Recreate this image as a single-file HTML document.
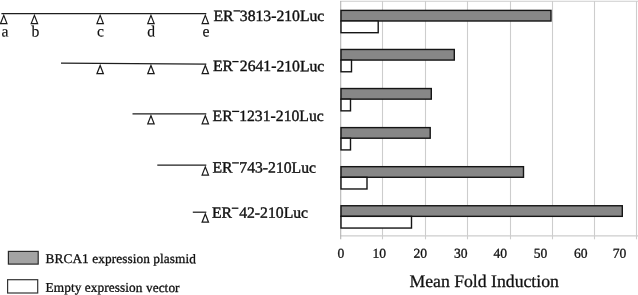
<!DOCTYPE html><html><head><meta charset="utf-8"><style>html,body{margin:0;padding:0;background:#fff;overflow:hidden;}svg{display:block;will-change:transform;}text{font-family:"Liberation Serif",serif;fill:#111;stroke:#111;stroke-width:0.4px;}.lg{stroke-width:0.3px;}.lt{stroke-width:0.15px;}.tk{stroke-width:0.3px;}.tt{stroke-width:0.3px;}</style></head><body>
<svg width="638" height="295" viewBox="0 0 638 295">
<rect x="0" y="0" width="638" height="295" fill="#fff"/>
<line x1="382.50" y1="1" x2="382.50" y2="239.3" stroke="#cdcdcd" stroke-width="1.1"/>
<line x1="425.50" y1="1" x2="425.50" y2="239.3" stroke="#cdcdcd" stroke-width="1.1"/>
<line x1="467.50" y1="1" x2="467.50" y2="239.3" stroke="#cdcdcd" stroke-width="1.1"/>
<line x1="510.50" y1="1" x2="510.50" y2="239.3" stroke="#cdcdcd" stroke-width="1.1"/>
<line x1="552.50" y1="1" x2="552.50" y2="239.3" stroke="#cdcdcd" stroke-width="1.1"/>
<line x1="594.50" y1="1" x2="594.50" y2="239.3" stroke="#cdcdcd" stroke-width="1.1"/>
<line x1="636.50" y1="1" x2="636.50" y2="239.3" stroke="#cdcdcd" stroke-width="1.1"/>
<line x1="340" y1="1.3" x2="638" y2="1.3" stroke="#cdcdcd" stroke-width="1.1"/>
<line x1="340" y1="235.9" x2="638" y2="235.9" stroke="#cdcdcd" stroke-width="1.3"/>
<line x1="340.7" y1="1" x2="340.7" y2="239.3" stroke="#b4b4b4" stroke-width="1.1"/>
<rect x="341.0" y="10.40" width="210.00" height="10.60" fill="#878787" stroke="#151515" stroke-width="1.4"/>
<rect x="341.0" y="21.00" width="37.20" height="11.70" fill="#fff" stroke="#151515" stroke-width="1.4"/>
<rect x="341.0" y="49.47" width="113.30" height="10.60" fill="#878787" stroke="#151515" stroke-width="1.4"/>
<rect x="341.0" y="60.07" width="10.50" height="11.70" fill="#fff" stroke="#151515" stroke-width="1.4"/>
<rect x="341.0" y="88.54" width="90.30" height="10.60" fill="#878787" stroke="#151515" stroke-width="1.4"/>
<rect x="341.0" y="99.14" width="9.50" height="11.70" fill="#fff" stroke="#151515" stroke-width="1.4"/>
<rect x="341.0" y="127.61" width="89.20" height="10.60" fill="#878787" stroke="#151515" stroke-width="1.4"/>
<rect x="341.0" y="138.21" width="9.50" height="11.70" fill="#fff" stroke="#151515" stroke-width="1.4"/>
<rect x="341.0" y="166.68" width="182.50" height="10.60" fill="#878787" stroke="#151515" stroke-width="1.4"/>
<rect x="341.0" y="177.28" width="26.00" height="11.70" fill="#fff" stroke="#151515" stroke-width="1.4"/>
<rect x="341.0" y="205.75" width="281.30" height="10.60" fill="#878787" stroke="#151515" stroke-width="1.4"/>
<rect x="341.0" y="216.35" width="70.50" height="11.70" fill="#fff" stroke="#151515" stroke-width="1.4"/>
<text x="340.8" y="257.7" font-size="13.6" text-anchor="middle" class="tk" transform="rotate(0.05 340.8 257.7)">0</text>
<text x="379.3" y="257.7" font-size="13.6" text-anchor="middle" class="tk" transform="rotate(0.05 379.3 257.7)">10</text>
<text x="420.2" y="257.7" font-size="13.6" text-anchor="middle" class="tk" transform="rotate(0.05 420.2 257.7)">20</text>
<text x="460.7" y="257.7" font-size="13.6" text-anchor="middle" class="tk" transform="rotate(0.05 460.7 257.7)">30</text>
<text x="500.2" y="257.7" font-size="13.6" text-anchor="middle" class="tk" transform="rotate(0.05 500.2 257.7)">40</text>
<text x="540.5" y="257.7" font-size="13.6" text-anchor="middle" class="tk" transform="rotate(0.05 540.5 257.7)">50</text>
<text x="580.7" y="257.7" font-size="13.6" text-anchor="middle" class="tk" transform="rotate(0.05 580.7 257.7)">60</text>
<text x="619.5" y="257.7" font-size="13.6" text-anchor="middle" class="tk" transform="rotate(0.05 619.5 257.7)">70</text>
<text x="409.5" y="287" font-size="17.7" class="tt" transform="rotate(0.05 409.5 287)">Mean Fold Induction</text>
<line x1="1.4" y1="13.55" x2="206.3" y2="13.55" stroke="#1e1e1e" stroke-width="1.25"/>
<polygon points="3.75,15.35 0.55,23.55 6.95,23.55" fill="#fff" stroke="#1a1a1a" stroke-width="1.2" stroke-linejoin="miter"/>
<polygon points="34.40,15.35 31.20,23.55 37.60,23.55" fill="#fff" stroke="#1a1a1a" stroke-width="1.2" stroke-linejoin="miter"/>
<polygon points="100.15,15.35 96.95,23.55 103.35,23.55" fill="#fff" stroke="#1a1a1a" stroke-width="1.2" stroke-linejoin="miter"/>
<polygon points="150.95,15.35 147.75,23.55 154.15,23.55" fill="#fff" stroke="#1a1a1a" stroke-width="1.2" stroke-linejoin="miter"/>
<polygon points="205.30,15.35 202.10,23.55 208.50,23.55" fill="#fff" stroke="#1a1a1a" stroke-width="1.2" stroke-linejoin="miter"/>
<text x="213.4" y="20.90" font-size="15.7" transform="rotate(0.05 213.4 20.90)">ER</text>
<line x1="233.5" y1="10.9" x2="240.2" y2="10.9" stroke="#111" stroke-width="1.3"/>
<text x="239.8" y="20.90" font-size="15.7" transform="rotate(0.05 239.8 20.90)">3813-210Luc</text>
<line x1="61.0" y1="63.150000000000006" x2="206.3" y2="64.2" stroke="#1e1e1e" stroke-width="1.25"/>
<polygon points="100.15,65.50 96.95,73.70 103.35,73.70" fill="#fff" stroke="#1a1a1a" stroke-width="1.2" stroke-linejoin="miter"/>
<polygon points="150.95,65.50 147.75,73.70 154.15,73.70" fill="#fff" stroke="#1a1a1a" stroke-width="1.2" stroke-linejoin="miter"/>
<polygon points="205.30,65.50 202.10,73.70 208.50,73.70" fill="#fff" stroke="#1a1a1a" stroke-width="1.2" stroke-linejoin="miter"/>
<text x="213.0" y="71.10" font-size="15.7" transform="rotate(0.05 213.0 71.10)">ER</text>
<line x1="232.3" y1="61.6" x2="238.6" y2="61.6" stroke="#111" stroke-width="1.3"/>
<text x="239.8" y="71.10" font-size="15.7" transform="rotate(0.05 239.8 71.10)">2641-210Luc</text>
<line x1="132.5" y1="113.9" x2="206.3" y2="113.9" stroke="#1e1e1e" stroke-width="1.25"/>
<polygon points="150.95,115.70 147.75,123.90 154.15,123.90" fill="#fff" stroke="#1a1a1a" stroke-width="1.2" stroke-linejoin="miter"/>
<polygon points="205.30,115.70 202.10,123.90 208.50,123.90" fill="#fff" stroke="#1a1a1a" stroke-width="1.2" stroke-linejoin="miter"/>
<text x="212.6" y="121.00" font-size="15.7" transform="rotate(0.05 212.6 121.00)">ER</text>
<line x1="232.1" y1="111.4" x2="239.2" y2="111.4" stroke="#111" stroke-width="1.3"/>
<text x="239.2" y="121.00" font-size="15.7" transform="rotate(0.05 239.2 121.00)">1231-210Luc</text>
<line x1="157.3" y1="165.1" x2="206.3" y2="165.1" stroke="#1e1e1e" stroke-width="1.25"/>
<polygon points="205.30,166.90 202.10,175.10 208.50,175.10" fill="#fff" stroke="#1a1a1a" stroke-width="1.2" stroke-linejoin="miter"/>
<text x="212.5" y="172.60" font-size="15.7" transform="rotate(0.05 212.5 172.60)">ER</text>
<line x1="232.1" y1="162.9" x2="238.9" y2="162.9" stroke="#111" stroke-width="1.3"/>
<text x="239.3" y="172.60" font-size="15.7" transform="rotate(0.05 239.3 172.60)">743-210Luc</text>
<line x1="192.8" y1="212.2" x2="206.3" y2="212.2" stroke="#1e1e1e" stroke-width="1.25"/>
<polygon points="205.30,214.00 202.10,222.20 208.50,222.20" fill="#fff" stroke="#1a1a1a" stroke-width="1.2" stroke-linejoin="miter"/>
<text x="212.0" y="217.70" font-size="15.7" transform="rotate(0.05 212.0 217.70)">ER</text>
<line x1="231.8" y1="208.2" x2="238.4" y2="208.2" stroke="#111" stroke-width="1.3"/>
<text x="239.2" y="217.70" font-size="15.7" transform="rotate(0.05 239.2 217.70)">42-210Luc</text>
<text x="4.9" y="36.6" font-size="15.7" text-anchor="middle" class="lt" transform="rotate(0.05 4.9 36.6)">a</text>
<text x="35.3" y="36.6" font-size="15.7" text-anchor="middle" class="lt" transform="rotate(0.05 35.3 36.6)">b</text>
<text x="100.4" y="36.6" font-size="15.7" text-anchor="middle" class="lt" transform="rotate(0.05 100.4 36.6)">c</text>
<text x="151.2" y="36.6" font-size="15.7" text-anchor="middle" class="lt" transform="rotate(0.05 151.2 36.6)">d</text>
<text x="206" y="36.6" font-size="15.7" text-anchor="middle" class="lt" transform="rotate(0.05 206 36.6)">e</text>
<rect x="8.4" y="251.4" width="29.8" height="12.7" fill="#a3a3a3" stroke="#2a2a2a" stroke-width="1.2"/>
<rect x="7.6" y="279.7" width="30.1" height="13.3" fill="#fff" stroke="#333" stroke-width="1.2"/>
<text x="45.6" y="263" font-size="13.3" letter-spacing="0.08" class="lg" transform="rotate(0.05 45.6 263)">BRCA1 expression plasmid</text>
<text x="45.6" y="291.8" font-size="13.3" letter-spacing="0.08" class="lg" transform="rotate(0.05 45.6 291.8)">Empty expression vector</text>
</svg></body></html>
